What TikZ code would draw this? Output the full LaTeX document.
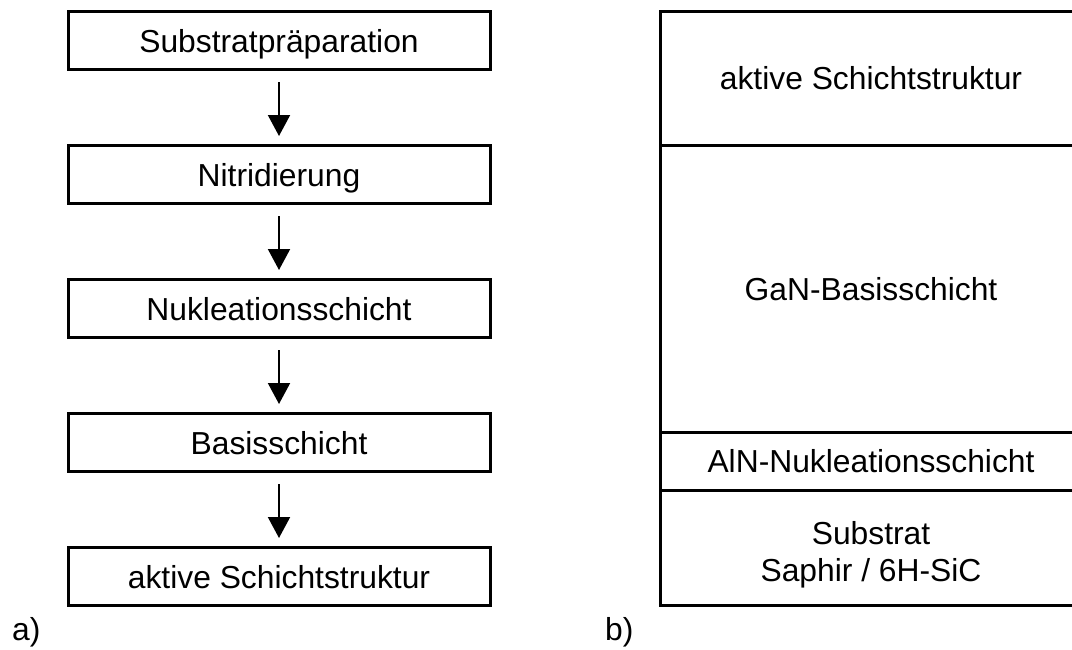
\documentclass[tikz,border=0pt]{standalone}
\usepackage{fontspec}
\setmainfont{Liberation Sans}
\usetikzlibrary{arrows.meta}
\begin{document}
\begin{tikzpicture}[x=1pt,y=-1pt,
  txt/.style={font=\fontsize{31.8}{37}\selectfont, align=center},
  capcentered/.style={text height=23pt, text depth=0pt},
  flowbox/.style={txt, capcentered, draw, line width=3pt, minimum width=422pt, minimum height=58pt, inner sep=0pt},
  layer/.style={txt, draw, line width=3pt, minimum width=422pt, inner sep=0pt},
  flowarrow/.style={-{Triangle[width=22pt,length=21pt]}, line width=2pt, shorten <=11pt, shorten >=8pt}
]
\path[use as bounding box, clip] (0,0) rectangle (1072,649);

% a) flow chart
\node[flowbox] (s1) at (279,40.5) {Substratpräparation};
\node[flowbox] (s2) at (279,174.5) {Nitridierung};
\node[flowbox] (s3) at (279,308.5) {Nukleationsschicht};
\node[flowbox] (s4) at (279,442.5) {Basisschicht};
\node[flowbox] (s5) at (279,576.5) {aktive Schichtstruktur};

\draw[flowarrow] (s1.south) -- (s2.north);
\draw[flowarrow] (s2.south) -- (s3.north);
\draw[flowarrow] (s3.south) -- (s4.north);
\draw[flowarrow] (s4.south) -- (s5.north);

% b) layer stack
\node[layer, capcentered, minimum height=133.4pt] (l1) at (871,78.3) {aktive Schichtstruktur};
\node[layer, capcentered, minimum height=287.5pt] (l2) at (871,288.75) {GaN-Basisschicht};
\node[layer, capcentered, minimum height=57.5pt] (l3) at (871,461.25) {AlN-Nukleationsschicht};
\node[layer, minimum height=115pt] (l4) at (871,547.5) {};
\node[txt, inner sep=0pt] (l4t) at (871,554.5) {Substrat\\Saphir / 6H-SiC};

% labels
\node[txt, anchor=base west, inner sep=0pt] (la) at (12,640) {a)};
\node[txt, anchor=base west, inner sep=0pt] (lb) at (605,640) {b)};
\end{tikzpicture}
\end{document}
